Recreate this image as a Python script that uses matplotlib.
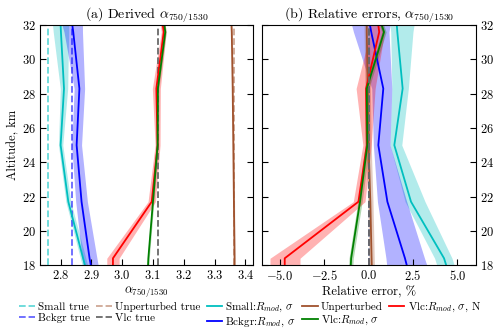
import matplotlib

matplotlib.use("Agg")
import matplotlib.pyplot as plt
import numpy as np

plt.rcParams["font.family"] = "serif"
plt.rcParams["font.serif"] = ["cmr10"]
plt.rcParams["mathtext.fontset"] = "cm"
plt.rcParams["axes.formatter.use_mathtext"] = True

# altitude levels, km
alt = np.array([18.0, 18.4, 21.7, 25.0, 28.3, 31.6, 32.0])

# (a) derived alpha_750/1530
small_true = 2.759
bckgr_true = 2.838
vlc_true = 3.117
unpert_true = 3.362

small = [2.879, 2.873, 2.825, 2.800, 2.811, 2.801, 2.800]
small_err = [0.009, 0.009, 0.008, 0.007, 0.012, 0.025, 0.026]
bckgr = [2.898, 2.894, 2.868, 2.852, 2.861, 2.841, 2.838]
bckgr_err = [0.024, 0.024, 0.019, 0.016, 0.017, 0.030, 0.033]
vlc = [3.084, 3.085, 3.100, 3.115, 3.116, 3.140, 3.137]
vlc_err = [0.003, 0.003, 0.003, 0.003, 0.003, 0.003, 0.003]
vlc_n = [2.970, 2.970, 3.096, 3.115, 3.111, 3.135, 3.132]
vlc_n_err = [0.020, 0.020, 0.012, 0.008, 0.013, 0.008, 0.008]
unpert = [3.365, 3.365, 3.363, 3.361, 3.359, 3.356, 3.355]
unpert_err = [0.002, 0.002, 0.002, 0.002, 0.002, 0.002, 0.002]

# (b) relative errors, %
small_rel = [4.37, 4.25, 2.39, 1.45, 1.92, 1.62, 1.59]
small_rel_lo = [3.84, 3.72, 2.06, 1.21, 1.31, 1.25, 1.21]
small_rel_hi = [4.82, 4.70, 3.18, 1.87, 2.24, 2.50, 2.56]
bckgr_rel = [2.15, 2.05, 1.06, 0.55, 0.83, 0.15, 0.08]
bckgr_rel_lo = [1.02, 0.98, 0.50, 0.27, 0.18, -0.85, -0.95]
bckgr_rel_hi = [3.28, 3.15, 2.15, 1.21, 1.31, 1.15, 1.21]
vlc_n_rel = [-4.72, -4.72, -0.57, -0.10, -0.14, 0.60, 0.55]
vlc_n_rel_lo = [-5.55, -5.55, -0.86, -0.32, -0.70, 0.10, 0.05]
vlc_n_rel_hi = [-3.86, -3.86, -0.20, 0.15, 0.37, 0.90, 0.80]
vlc_rel = [-1.00, -0.98, -0.48, -0.07, -0.10, 0.87, 0.74]
vlc_rel_lo = [-1.12, -1.10, -0.60, -0.19, -0.22, 0.75, 0.62]
vlc_rel_hi = [-0.88, -0.86, -0.36, 0.05, 0.02, 0.99, 0.86]
unpert_rel = [0.18, 0.17, 0.10, 0.00, -0.05, -0.10, -0.10]
unpert_rel_lo = [0.03, 0.02, -0.05, -0.15, -0.20, -0.25, -0.25]
unpert_rel_hi = [0.33, 0.32, 0.25, 0.15, 0.10, 0.05, 0.05]

C_SMALL = "c"
C_BCKGR = "b"
C_UNPERT = "sienna"
C_VLC = "g"
C_VLC_N = "r"

fig = plt.figure(figsize=(5.0, 3.31), dpi=100)
ax1 = fig.add_axes([0.080, 0.199, 0.426, 0.725])
ax2 = fig.add_axes([0.524, 0.199, 0.428, 0.725])

# ---- panel (a)
for vals, err, color in [
    (small, small_err, C_SMALL),
    (bckgr, bckgr_err, C_BCKGR),
    (unpert, unpert_err, C_UNPERT),
    (vlc, vlc_err, C_VLC),
    (vlc_n, vlc_n_err, C_VLC_N),
]:
    v = np.array(vals)
    e = np.array(err)
    ax1.fill_betweenx(alt, v - e, v + e, color=color, alpha=0.3, linewidth=0)

h_st = ax1.axvline(small_true, color=C_SMALL, ls="--", alpha=0.6, lw=1.3, label="Small true")
h_bt = ax1.axvline(bckgr_true, color=C_BCKGR, ls="--", alpha=0.6, lw=1.3, label="Bckgr true")
h_ut = ax1.axvline(unpert_true, color=C_UNPERT, ls="--", alpha=0.5, lw=1.3, label="Unperturbed true")
h_vt = ax1.axvline(vlc_true, color="dimgray", ls="--", lw=1.3, label="Vlc true")

h_s, = ax1.plot(small, alt, color=C_SMALL, lw=1.3, label=r"Small:$R_{mod}$, $\sigma$")
h_b, = ax1.plot(bckgr, alt, color=C_BCKGR, lw=1.3, label=r"Bckgr:$R_{mod}$, $\sigma$")
h_u, = ax1.plot(unpert, alt, color=C_UNPERT, lw=1.3, label="Unperturbed")
h_vn, = ax1.plot(vlc_n, alt, color=C_VLC_N, lw=1.3, label=r"Vlc:$R_{mod}$, $\sigma$, N")
h_v, = ax1.plot(vlc, alt, color=C_VLC, lw=1.3, label=r"Vlc:$R_{mod}$, $\sigma$")

ax1.set_xlim(2.733, 3.425)
ax1.set_xticks([2.8, 2.9, 3.0, 3.1, 3.2, 3.3, 3.4])
ax1.set_xlabel(r"$\alpha_{750/1530}$", fontsize=9, labelpad=2)
ax1.set_ylabel("Altitude, km", fontsize=9, labelpad=2)
ax1.set_title(r"(a) Derived $\alpha_{750/1530}$", fontsize=10, pad=3)

# ---- panel (b)
for lo, hi, color in [
    (small_rel_lo, small_rel_hi, C_SMALL),
    (bckgr_rel_lo, bckgr_rel_hi, C_BCKGR),
    (unpert_rel_lo, unpert_rel_hi, C_UNPERT),
    (vlc_rel_lo, vlc_rel_hi, C_VLC),
    (vlc_n_rel_lo, vlc_n_rel_hi, C_VLC_N),
]:
    ax2.fill_betweenx(alt, lo, hi, color=color, alpha=0.3, linewidth=0)

ax2.axvline(0, color=C_SMALL, ls="--", alpha=0.6, lw=1.3)
ax2.axvline(0, color=C_BCKGR, ls="--", alpha=0.6, lw=1.3)
ax2.axvline(0, color=C_UNPERT, ls="--", alpha=0.5, lw=1.3)
ax2.plot(small_rel, alt, color=C_SMALL, lw=1.3)
ax2.plot(bckgr_rel, alt, color=C_BCKGR, lw=1.3)
ax2.plot(unpert_rel, alt, color=C_UNPERT, lw=1.3)
ax2.plot(vlc_n_rel, alt, color=C_VLC_N, lw=1.3)
ax2.plot(vlc_rel, alt, color=C_VLC, lw=1.3)
ax2.axvline(0, color="dimgray", ls="--", lw=1.3)

ax2.set_xlim(-6.0, 6.05)
ax2.set_xticks([-5.0, -2.5, 0.0, 2.5, 5.0])
ax2.set_xlabel("Relative error, %", fontsize=9, labelpad=2)
ax2.set_title(r"(b) Relative errors, $\alpha_{750/1530}$", fontsize=10, pad=3)
ax2.yaxis.tick_right()

for ax in (ax1, ax2):
    ax.set_ylim(18, 32)
    ax.set_yticks(range(18, 33, 2))
    ax.tick_params(direction="in", left=True, right=True, top=False, labelsize=9, length=4.5, pad=3)
ax2.tick_params(labelleft=False, labelright=True)

handles = [h_st, h_bt, h_ut, h_vt, h_s, h_b, h_u, h_v, h_vn]
fig.legend(handles=handles, labels=[h.get_label() for h in handles],
           loc="lower center", bbox_to_anchor=(0.5, -0.01), ncol=5, frameon=False,
           fontsize=8, handlelength=1.4, handletextpad=0.3, columnspacing=0.55,
           labelspacing=0.1, borderaxespad=0.1)

fig.savefig("out.png", dpi=100)
